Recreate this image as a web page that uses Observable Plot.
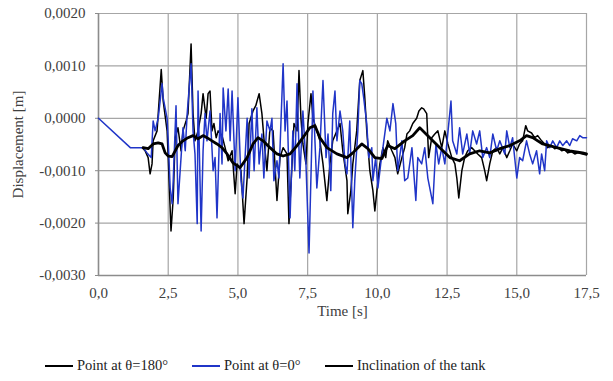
<!DOCTYPE html>
<html><head><meta charset="utf-8">
<script src="https://cdn.jsdelivr.net/npm/d3@7"></script>
<script src="https://cdn.jsdelivr.net/npm/@observablehq/plot@0.6"></script>
<style>
body{margin:0;background:#fff;font-family:"Liberation Serif","Times New Roman",serif;}
#legend{position:relative;width:613px;height:46px;font-size:14.5px;color:#222;}
.item{position:absolute;top:22px;display:flex;align-items:center;white-space:nowrap;}
.sw{display:inline-block;width:28px;margin-right:4px;}
</style></head><body><div id="chart"></div>
<div id="legend">
  <div class="item" style="left:45px"><span class="sw" style="border-top:2px solid #000"></span>Point at θ=180°</div>
  <div class="item" style="left:192px"><span class="sw" style="border-top:2px solid #2035c8"></span>Point at θ=0°</div>
  <div class="item" style="left:325px"><span class="sw" style="border-top:2.5px solid #000"></span>Inclination of the tank</div>
</div>
<script>
const xTicks = [0, 2.5, 5, 7.5, 10, 12.5, 15, 17.5];
const yTicks = [-0.003, -0.002, -0.001, 0, 0.001, 0.002];

// [time s, displacement m]
const pointAt0 = [[0,0],[1.14,-0.00056],[1.6,-0.00056],[1.74,-0.00066],[1.89,-0.00075],[1.96,-0.00005],[2.03,-0.00024],[2.14,0],[2.28,0.00066],[2.32,0.00039],[2.46,0],[2.5,-0.00043],[2.57,-0.00133],[2.64,-0.00163],[2.68,-0.00119],[2.78,0.00024],[2.85,-0.00163],[2.96,-0.00075],[3.03,-0.00018],[3.11,-0.00062],[3.18,0.00009],[3.32,0.00104],[3.39,-0.00024],[3.46,-0.00068],[3.54,-0.00201],[3.57,0.00052],[3.68,-0.00215],[3.75,-0.00062],[3.82,0.00009],[3.89,-0.00043],[4.0,0.00014],[4.11,-0.001],[4.18,-0.00075],[4.25,-0.0019],[4.36,0.00009],[4.43,-0.00087],[4.47,0.00058],[4.57,-0.00024],[4.65,0.00056],[4.72,-0.00043],[4.79,0.00052],[4.9,-0.001],[5.0,0.00039],[5.11,-0.00119],[5.18,-0.00152],[5.33,0],[5.4,-0.00114],[5.5,0.00018],[5.58,-0.001],[5.68,0.0002],[5.76,-0.00087],[5.86,-0.0003],[5.93,-0.00114],[6.04,-0.00005],[6.15,-0.00024],[6.22,0],[6.29,-0.00119],[6.4,-0.00081],[6.47,-0.00114],[6.62,0.00104],[6.69,-0.00024],[6.76,0.00033],[6.87,-0.0019],[6.97,-0.00024],[7.04,-0.001],[7.12,0.00066],[7.22,-0.00114],[7.33,0.00014],[7.44,-0.00087],[7.55,-0.00257],[7.66,-0.00024],[7.69,0.00052],[7.83,-0.00133],[7.94,-0.00056],[8.05,0.00072],[8.16,-0.00075],[8.23,-0.0003],[8.33,-0.00138],[8.4,0.00009],[8.48,0.00052],[8.55,-0.00043],[8.66,0.00014],[8.76,-0.00024],[8.84,-0.00087],[8.91,-0.00106],[9.01,-0.00005],[9.12,-0.00209],[9.19,-0.00119],[9.3,-0.00024],[9.37,0.00072],[9.44,0.00066],[9.51,0.00039],[9.62,-0.0001],[9.69,-0.00075],[9.8,-0.00056],[9.84,-0.00119],[9.94,-0.00075],[10.02,-0.00133],[10.12,-0.00087],[10.2,-0.00056],[10.34,0],[10.45,-0.00024],[10.56,0.00028],[10.66,-0.0001],[10.73,-0.001],[10.88,-0.00043],[10.98,-0.00119],[11.09,-0.00114],[11.24,-0.00056],[11.38,-0.00157],[11.45,-0.00075],[11.59,-0.00087],[11.7,-0.00056],[11.81,-0.00114],[11.99,-0.00163],[12.1,-0.00049],[12.2,-0.00087],[12.31,-0.00056],[12.42,-0.00087],[12.64,0.00033],[12.7,-0.00043],[12.85,-0.00068],[12.95,-0.00018],[13.06,-0.00068],[13.21,-0.0003],[13.31,-0.00068],[13.42,-0.00024],[13.56,-0.00049],[13.67,-0.00024],[13.78,-0.00075],[13.92,-0.00056],[14.03,-0.00075],[14.14,-0.0003],[14.28,-0.00062],[14.39,-0.00043],[14.57,-0.00068],[14.64,-0.00024],[14.75,-0.00056],[14.85,-0.00037],[15.0,-0.00114],[15.1,-0.00075],[15.21,-0.00081],[15.35,-0.00043],[15.46,-0.00068],[15.57,-0.00087],[15.71,-0.00062],[15.82,-0.00106],[15.89,-0.00068],[16.0,-0.001],[16.07,-0.00043],[16.18,-0.00056],[16.29,-0.00043],[16.43,-0.00056],[16.54,-0.00043],[16.65,-0.00052],[16.79,-0.00043],[16.9,-0.00052],[17.0,-0.00039],[17.15,-0.00043],[17.26,-0.00033],[17.36,-0.00037],[17.5,-0.00037]];

const pointAt180 = [[1.57,-0.00056],[1.67,-0.00062],[1.78,-0.00075],[1.85,-0.00106],[1.92,-0.00087],[1.96,-0.00043],[2.1,-0.00024],[2.25,0.00093],[2.32,0.00033],[2.46,-0.00024],[2.5,-0.00075],[2.6,-0.00215],[2.68,-0.00152],[2.75,-0.00037],[2.85,-0.00018],[2.96,-0.00062],[3.03,-0.00024],[3.14,-0.00005],[3.21,0.00009],[3.32,0.00142],[3.39,0.00009],[3.46,-0.00043],[3.57,-0.00024],[3.68,0.00009],[3.75,0.00047],[3.86,0],[3.93,0.00047],[4.0,0.00052],[4.07,-0.00024],[4.14,-0.0001],[4.22,-0.00037],[4.29,-0.00024],[4.43,-0.00033],[4.54,-0.00056],[4.65,-0.00081],[4.79,-0.00062],[4.9,-0.00144],[4.97,-0.00087],[5.11,-0.001],[5.22,-0.00201],[5.33,-0.00114],[5.4,-0.0001],[5.54,0.00014],[5.64,0.00024],[5.76,0.00047],[5.86,0.00009],[5.93,-0.00037],[6.04,-0.001],[6.15,-0.00018],[6.26,-0.00024],[6.4,-0.00157],[6.51,-0.00075],[6.62,-0.00056],[6.76,-0.00068],[6.83,-0.00201],[6.94,-0.00087],[7.01,-0.0001],[7.12,-0.00024],[7.19,0.00091],[7.26,0],[7.33,-0.00049],[7.44,-0.00087],[7.51,-0.0001],[7.62,0.00047],[7.69,0],[7.83,-0.00024],[7.94,-0.00043],[8.05,-0.00087],[8.19,-0.00157],[8.3,-0.00087],[8.4,-0.00043],[8.55,-0.00024],[8.66,-0.0001],[8.76,-0.00062],[8.91,-0.00119],[8.94,-0.00182],[9.05,-0.00138],[9.12,-0.00087],[9.26,-0.00024],[9.37,0.00072],[9.48,0.00091],[9.55,0.00039],[9.62,-0.00024],[9.73,-0.001],[9.84,-0.00138],[9.91,-0.00177],[10.02,-0.00119],[10.09,-0.00087],[10.2,-0.00056],[10.3,-0.00075],[10.37,-0.00043],[10.52,-0.00062],[10.63,-0.00075],[10.73,-0.00106],[10.88,-0.00075],[10.98,-0.00056],[11.06,-0.0003],[11.16,-0.00024],[11.27,-0.0001],[11.41,0],[11.49,0.00014],[11.59,0.0002],[11.66,0.00018],[11.77,0.00009],[11.84,-0.00075],[11.95,-0.00037],[12.06,-0.0003],[12.17,-0.00024],[12.31,-0.00056],[12.42,-0.00024],[12.53,-0.00049],[12.67,-0.00075],[12.78,-0.00087],[12.85,-0.00114],[12.92,-0.00152],[13.03,-0.001],[13.13,-0.00075],[13.24,-0.00062],[13.38,-0.00056],[13.49,-0.00062],[13.6,-0.00068],[13.74,-0.00075],[13.85,-0.001],[13.92,-0.00119],[14.03,-0.00087],[14.14,-0.00062],[14.28,-0.00056],[14.39,-0.00068],[14.5,-0.00056],[14.64,-0.00075],[14.75,-0.00062],[14.85,-0.00049],[15.0,-0.00062],[15.1,-0.00049],[15.21,-0.00043],[15.32,-0.00014],[15.39,-0.00024],[15.53,-0.00028],[15.64,-0.00037],[15.75,-0.00033],[15.89,-0.00043],[16.0,-0.00049],[16.11,-0.00056],[16.25,-0.00052],[16.36,-0.00058],[16.47,-0.00056],[16.61,-0.00062],[16.72,-0.0006],[16.83,-0.00066],[16.97,-0.00064],[17.08,-0.00068],[17.18,-0.00066],[17.36,-0.00068],[17.5,-0.0007]];

const inclination = [[1.6,-0.00056],[1.78,-0.00058],[1.96,-0.00049],[2.14,-0.00047],[2.28,-0.00049],[2.39,-0.00066],[2.5,-0.00072],[2.64,-0.00073],[2.75,-0.00062],[2.85,-0.00052],[3.03,-0.00043],[3.21,-0.00037],[3.39,-0.00033],[3.57,-0.00039],[3.75,-0.00033],[3.89,-0.00037],[4.07,-0.00043],[4.25,-0.00049],[4.43,-0.00056],[4.61,-0.00068],[4.82,-0.00085],[5.08,-0.00094],[5.33,-0.00075],[5.54,-0.00049],[5.72,-0.00037],[5.9,-0.00043],[6.15,-0.00056],[6.4,-0.00068],[6.62,-0.00072],[6.87,-0.00068],[7.12,-0.00052],[7.33,-0.00037],[7.58,-0.00018],[7.76,-0.00014],[7.94,-0.00037],[8.19,-0.00056],[8.55,-0.00068],[8.91,-0.00075],[9.12,-0.00066],[9.44,-0.00049],[9.66,-0.00058],[9.91,-0.00075],[10.16,-0.00077],[10.37,-0.00052],[10.63,-0.00058],[10.98,-0.00043],[11.27,-0.00033],[11.52,-0.00018],[11.88,-0.00037],[12.24,-0.00056],[12.6,-0.00075],[12.95,-0.00081],[13.31,-0.00068],[13.67,-0.00062],[14.03,-0.00066],[14.39,-0.00058],[14.75,-0.00052],[15.1,-0.00043],[15.35,-0.00033],[15.57,-0.00037],[15.93,-0.00049],[16.43,-0.00056],[16.9,-0.00062],[17.36,-0.00066],[17.5,-0.00068]];

const fmtY = v => (v < 0 ? "-" : "") + Math.abs(v).toFixed(4).replace(".", ",");
const fmtX = v => v.toFixed(1).replace(".", ",");
const rows = arr => arr.map(([t, v]) => ({t, v}));

const chart = Plot.plot({
  width: 613, height: 335,
  marginTop: 13, marginBottom: 60, marginLeft: 98, marginRight: 27,
  style: {fontFamily: "'Liberation Serif', 'Times New Roman', serif", fontSize: "15px", color: "#404040", background: "#fff"},
  x: {domain: [0, 17.5]},
  y: {domain: [-0.003, 0.002]},
  marks: [
    Plot.gridX(xTicks, {stroke: "#a6a6a6", strokeOpacity: 1, strokeWidth: 1.2}),
    Plot.gridY(yTicks, {stroke: "#a6a6a6", strokeOpacity: 1, strokeWidth: 1.2}),
    Plot.ruleX([0], {stroke: "#8c8c8c", strokeWidth: 1.5}),
    Plot.ruleY([-0.003], {stroke: "#8c8c8c", strokeWidth: 1.5}),
    Plot.axisY(yTicks, {tickSize: 3, tickPadding: 10, tickFormat: fmtY, stroke: "#8c8c8c", fill: "#404040",
      label: "Displacement [m]", labelAnchor: "center", labelArrow: "none", labelOffset: 86}),
    Plot.axisX(xTicks, {tickSize: 0, tickPadding: 12, tickFormat: fmtX, fill: "#404040",
      label: "Time [s]", labelAnchor: "center", labelArrow: "none", labelOffset: 40}),
    Plot.line(rows(pointAt180), {x: "t", y: "v", stroke: "#000", strokeWidth: 1.5}),
    Plot.line(rows(pointAt0), {x: "t", y: "v", stroke: "#2035c8", strokeWidth: 1.5}),
    Plot.line(rows(inclination), {x: "t", y: "v", stroke: "#000", strokeWidth: 2.8})
  ]
});
document.getElementById("chart").appendChild(chart);
</script>
</body></html>
